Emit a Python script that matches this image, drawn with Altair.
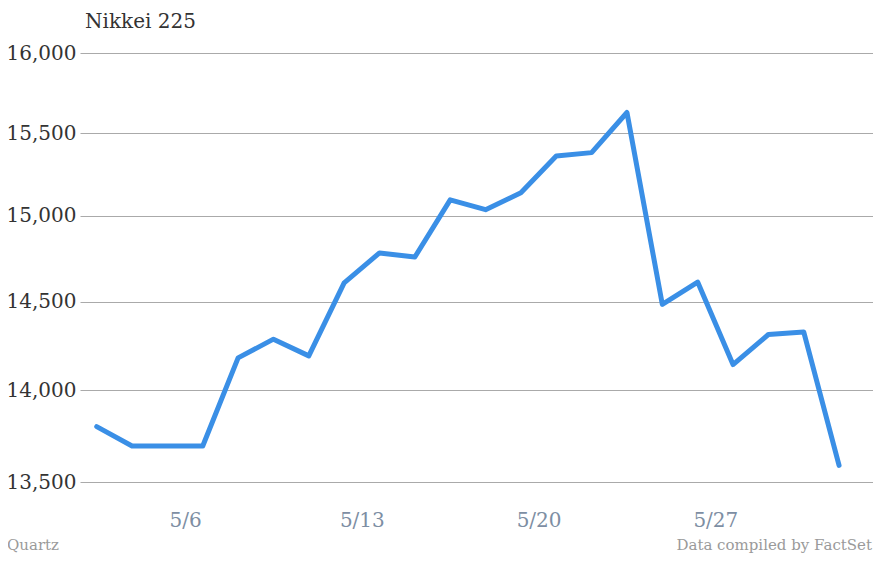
import altair as alt
import pandas as pd

# Nikkei 225 daily closes, May 2013 (holidays carried forward)
dates = ["2013-05-01", "2013-05-02", "2013-05-03", "2013-05-06", "2013-05-07",
         "2013-05-08", "2013-05-09", "2013-05-10", "2013-05-13", "2013-05-14",
         "2013-05-15", "2013-05-16", "2013-05-17", "2013-05-20", "2013-05-21",
         "2013-05-22", "2013-05-23", "2013-05-24", "2013-05-27", "2013-05-28",
         "2013-05-29", "2013-05-30"]
closes = [13799.35, 13694.04, 13694.04, 13694.04, 14180.24,
          14285.69, 14191.48, 14607.54, 14782.21, 14758.22,
          15096.03, 15037.24, 15138.12, 15360.81, 15381.02,
          15627.26, 14483.98, 14612.45, 14142.65, 14311.98,
          14326.46, 13589.03]
tick_dates = ["2013-05-06", "2013-05-13", "2013-05-20", "2013-05-27"]
tick_labels = ["5/6", "5/13", "5/20", "5/27"]
y_ticks = [13500, 14000, 14500, 15000, 15500, 16000]
title_text = ["Nikkei 225"]
source_left = ["Quartz"]
source_right = ["Data compiled by FactSet"]

FONT = "DejaVu Serif"

df = pd.DataFrame({"i": list(range(len(dates))), "date": dates, "close": closes})
tick_pos = [dates.index(d) - 0.5 for d in tick_dates]
label_expr = " : ".join(
    f"datum.value == {p} ? '{l}'" for p, l in zip(tick_pos, tick_labels)
) + " : ''"

line = alt.Chart(df).mark_line(
    color="#3a8fe6", strokeWidth=5, strokeJoin="round", strokeCap="round"
).encode(
    x=alt.X("i:Q",
            scale=alt.Scale(domain=[-0.4724, 21.96], nice=False, zero=False),
            axis=alt.Axis(values=tick_pos, labelExpr=label_expr, title=None,
                          grid=False, domain=False, ticks=False, tickSize=0,
                          labelFont=FONT, labelFontSize=20, labelColor="#7d8ea3",
                          labelPadding=44, labelBaseline="alphabetic",
                          labelFlush=False, labelOverlap=False)),
    y=alt.Y("close:Q",
            scale=alt.Scale(type="log", domain=[13500, 16000], nice=False, zero=False),
            axis=alt.Axis(values=y_ticks, format=",", title=None, grid=True,
                          gridColor="#aaaaaa", gridWidth=1, domain=False,
                          ticks=False, tickSize=0, labelFont=FONT,
                          labelFontSize=20, labelColor="#333333",
                          labelPadding=4, labelBaseline="middle",
                          labelOverlap=False)),
)

title = alt.Chart(pd.DataFrame({"t": title_text})).mark_text(
    align="left", baseline="alphabetic", font=FONT, fontSize=20, color="#333333"
).encode(text="t:N", x=alt.value(5), y=alt.value(-25))

left_note = alt.Chart(pd.DataFrame({"t": source_left})).mark_text(
    align="left", baseline="alphabetic", font=FONT, fontSize=15, color="#9a9a9a"
).encode(text="t:N", x=alt.value(-73), y=alt.value(497))

right_note = alt.Chart(pd.DataFrame({"t": source_right})).mark_text(
    align="right", baseline="alphabetic", font=FONT, fontSize=15, color="#9a9a9a"
).encode(text="t:N", x=alt.value(792), y=alt.value(497))

chart = alt.layer(line, title, left_note, right_note).properties(
    width=793, height=429,
    padding={"left": 72, "top": 45, "right": 0, "bottom": 72},
    autosize=alt.AutoSizeParams(type="none"),
    background="white",
).configure_view(strokeWidth=0)

chart.save("out.html", embed_options={"renderer": "svg", "actions": False})
